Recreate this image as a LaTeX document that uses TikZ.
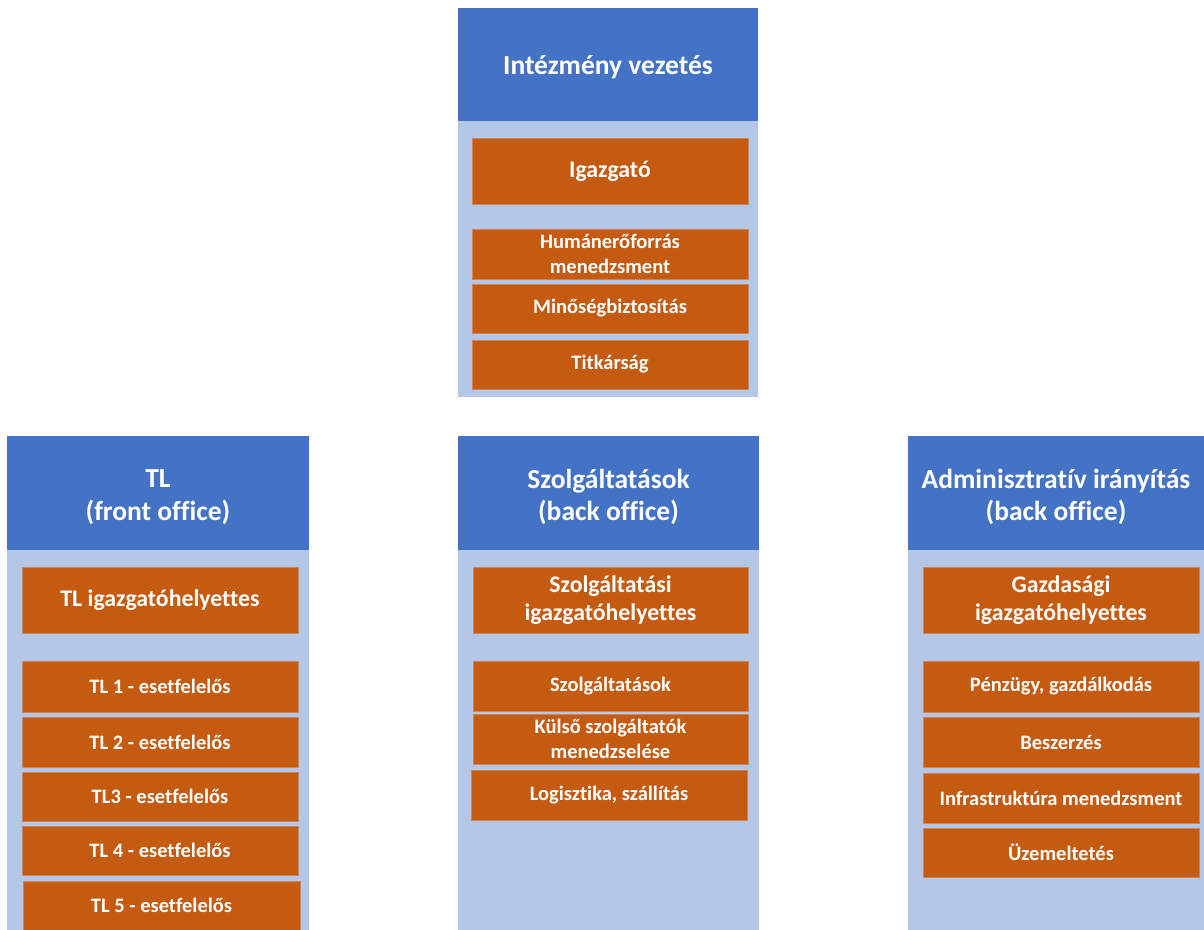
\documentclass[tikz,border=0pt]{standalone}
\usepackage{fontspec}
\setmainfont[Ligatures={NoCommon}]{Carlito}
\definecolor{hdrblue}{HTML}{4472C4}
\definecolor{panelblue}{HTML}{B4C7E7}
\definecolor{boxorange}{HTML}{C55A11}
\definecolor{boxedge}{HTML}{CD8458}
\begin{document}
\begin{tikzpicture}[x=1pt,y=-1pt,
  hdr/.style={rectangle, fill=hdrblue, draw=none, anchor=north west, outer sep=0pt, inner sep=0pt},
  hdrtext/.style={inner sep=0pt, text=white, align=center, font=\bfseries\fontsize{27.5}{32.5}\selectfont},
  panel/.style={rectangle, fill=panelblue, draw=none, anchor=north west, outer sep=0pt, inner sep=0pt},
  bigbox/.style={rectangle, fill=boxorange, draw=boxedge, line width=0.6pt, anchor=north west, outer sep=0pt, inner sep=0pt,
     text=white, align=center, font=\bfseries\fontsize{23.8}{28}\selectfont},
  smallbox/.style={rectangle, fill=boxorange, draw=boxedge, line width=0.6pt, anchor=north west, outer sep=0pt, inner sep=0pt,
     text=white, align=center, font=\bfseries\fontsize{20.5}{25}\selectfont}
]
\clip (0,0) rectangle (1204,929);
\fill[white] (0,0) rectangle (1204,929);

% ---- top column
\node[panel, minimum width=300, minimum height=276] (p1) at (458,121) {};
\node[hdr, minimum width=300, minimum height=113] (h1) at (458,8) {};
\node[hdrtext] (h1t) at ([yshift=-3pt]h1.center) {Intézmény vezetés};
\node[bigbox, minimum width=276, minimum height=66] (igaz) at (472,138) {Igazgató};
\node[smallbox, minimum width=276, minimum height=50] (hum) at (472,229) {Humánerőforrás\\menedzsment};
\node[smallbox, minimum width=276, minimum height=49] (min) at (472,284) {Minőségbiztosítás};
\node[smallbox, minimum width=276, minimum height=49] (tit) at (472,340) {Titkárság};

% ---- left column
\node[panel, minimum width=302, minimum height=400] (p2) at (7,550) {};
\node[hdr, minimum width=302, minimum height=114] (h2) at (7,436) {};
\node[hdrtext] (h2t) at ([yshift=-4pt]h2.center) {TL\\(front office)};
\node[bigbox, minimum width=276, minimum height=66] (tlig) at (22,567) {TL igazgatóhelyettes};
\node[smallbox, minimum width=276, minimum height=51] (tl1) at (22,661) {TL 1 - esetfelelős};
\node[smallbox, minimum width=276, minimum height=50] (tl2) at (22,717) {TL 2 - esetfelelős};
\node[smallbox, minimum width=276, minimum height=49] (tl3) at (22,772) {TL3 - esetfelelős};
\node[smallbox, minimum width=276, minimum height=49] (tl4) at (22,826) {TL 4 - esetfelelős};
\node[smallbox, minimum width=277, minimum height=49] (tl5) at (23,881) {TL 5 - esetfelelős};

% ---- middle column
\node[panel, minimum width=301, minimum height=400] (p3) at (458,550) {};
\node[hdr, minimum width=301, minimum height=114] (h3) at (458,436) {};
\node[hdrtext] (h3t) at ([yshift=-4pt]h3.center) {Szolgáltatások\\(back office)};
\node[bigbox, minimum width=275, minimum height=66] (szig) at (473,567) {Szolgáltatási\\igazgatóhelyettes};
\node[smallbox, minimum width=275, minimum height=50] (szol) at (473,661) {Szolgáltatások};
\node[smallbox, minimum width=275, minimum height=50] (kul) at (473,714) {Külső szolgáltatók\\menedzselése};
\node[smallbox, minimum width=276, minimum height=50] (log) at (471,770) {Logisztika, szállítás};

% ---- right column
\node[panel, minimum width=296, minimum height=400] (p4) at (908,550) {};
\node[hdr, minimum width=296, minimum height=114] (h4) at (908,436) {};
\node[hdrtext] (h4t) at ([yshift=-4pt]h4.center) {Adminisztratív irányítás\\(back office)};
\node[bigbox, minimum width=276, minimum height=66] (gaz) at (923,567) {Gazdasági\\igazgatóhelyettes};
\node[smallbox, minimum width=276, minimum height=51] (pen) at (923,661) {Pénzügy, gazdálkodás};
\node[smallbox, minimum width=276, minimum height=50] (bes) at (923,717) {Beszerzés};
\node[smallbox, minimum width=276, minimum height=50] (inf) at (923,773) {Infrastruktúra menedzsment};
\node[smallbox, minimum width=276, minimum height=49] (uze) at (923,828) {Üzemeltetés};
\end{tikzpicture}
\end{document}
